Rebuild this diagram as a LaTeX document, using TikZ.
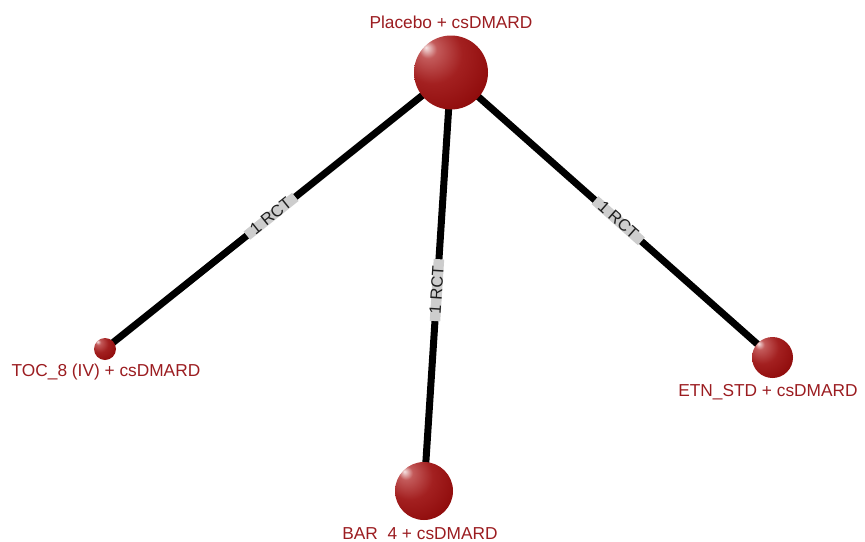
\documentclass[tikz,border=0pt]{standalone}
\usepackage{fontspec}
\setmainfont{Liberation Sans}
\definecolor{nodetext}{RGB}{155,28,32}
\definecolor{lbltext}{RGB}{30,30,30}
\definecolor{lblbg}{RGB}{205,205,205}
\definecolor{sphA}{RGB}{246,228,228}
\definecolor{sphB}{RGB}{195,90,90}
\definecolor{sphC}{RGB}{163,32,32}
\definecolor{sphD}{RGB}{138,6,6}
\definecolor{sphE}{RGB}{125,0,0}
\pgfdeclareradialshading{nmaball}{\pgfqpoint{-17bp}{17bp}}{%
  color(0bp)=(sphA); color(6bp)=(sphB); color(20bp)=(sphC);
  color(42bp)=(sphD); color(75bp)=(sphE)}
\pgfdeclarelayer{bg}
\pgfsetlayers{bg,main}
\tikzset{
  sph/.style={circle, inner sep=0pt, draw=none, shading=nmaball},
  nlbl/.style={text=nodetext, font=\fontsize{17.3}{19}\selectfont, inner sep=0pt, anchor=base},
  edgeline/.style={line width=7pt, black},
  elbl/.style={sloped, fill=lblbg, text=lbltext, font=\fontsize{16.5}{18}\selectfont,
    inner xsep=0pt, inner ysep=0pt, minimum width=62pt,
    text height=10.5pt, text depth=-1.5pt}
}
\begin{document}
\begin{tikzpicture}[x=1pt,y=-1pt]
\useasboundingbox (0,0) rectangle (865,541);
% spheres
\node[sph, minimum size=74pt] (P) at (451,72.5) {};
\node[sph, minimum size=22pt] (T) at (105,349) {};
\node[sph, minimum size=41pt] (E) at (772.5,357.5) {};
\node[sph, minimum size=58pt] (B) at (424,491) {};
% labels
\node[nlbl] (Pl) at (451,28) {Placebo + csDMARD};
\node[nlbl] (Tl) at (106,376) {TOC\_8 (IV) + csDMARD};
\node[nlbl] (El) at (768,396) {ETN\_STD + csDMARD};
\node[nlbl] (Bl) at (420,539) {BAR\ \ 4 + csDMARD};
% edges
\begin{pgfonlayer}{bg}
\draw[edgeline] (P.center) -- (T.center) node[elbl, pos=0.52] (eT) {1 RCT};
\draw[edgeline] (P.center) -- (B.center) node[elbl, pos=0.52] (eB) {1 RCT};
\draw[edgeline] (P.center) -- (E.center) node[elbl, pos=0.52] (eE) {1 RCT};
\end{pgfonlayer}
\end{tikzpicture}
\end{document}
